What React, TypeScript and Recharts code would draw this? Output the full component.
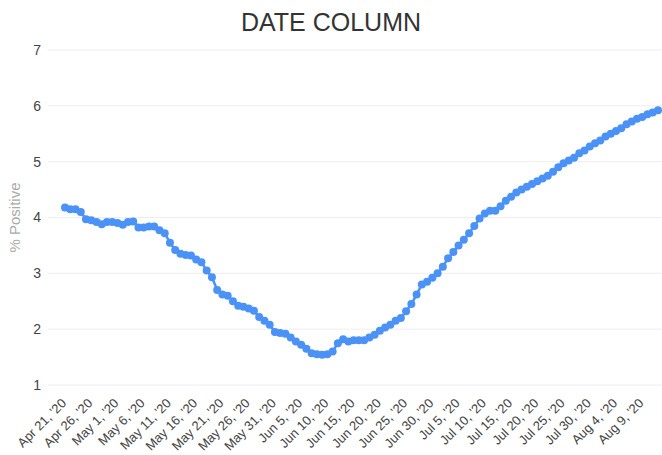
import React from 'react';
import { LineChart, Line, XAxis, YAxis, CartesianGrid } from 'recharts';

const MONTHS = ['Jan', 'Feb', 'Mar', 'Apr', 'May', 'Jun', 'Jul', 'Aug', 'Sep', 'Oct', 'Nov', 'Dec'];

// daily % positive, Apr 21 '20 .. Aug 12 '20
const positive = [
  4.18, 4.15, 4.15, 4.1, 3.97, 3.95, 3.92, 3.88, 3.92, 3.92,
  3.9, 3.87, 3.92, 3.93, 3.82, 3.82, 3.84, 3.84, 3.77, 3.72,
  3.55, 3.42, 3.35, 3.33, 3.32, 3.25, 3.2, 3.05, 2.93, 2.7,
  2.62, 2.6, 2.5, 2.42, 2.4, 2.37, 2.33, 2.22, 2.15, 2.08,
  1.95, 1.93, 1.92, 1.85, 1.78, 1.72, 1.65, 1.57, 1.55, 1.54,
  1.55, 1.6, 1.75, 1.82, 1.78, 1.8, 1.8, 1.8, 1.85, 1.9,
  1.97, 2.03, 2.08, 2.15, 2.2, 2.32, 2.45, 2.62, 2.8, 2.85,
  2.92, 3.0, 3.12, 3.27, 3.38, 3.5, 3.6, 3.72, 3.85, 3.98,
  4.07, 4.12, 4.12, 4.2, 4.3, 4.37, 4.45, 4.5, 4.55, 4.6,
  4.65, 4.7, 4.75, 4.82, 4.9, 4.97, 5.02, 5.07, 5.15, 5.2,
  5.27, 5.33, 5.38, 5.45, 5.5, 5.55, 5.6, 5.67, 5.72, 5.77,
  5.8, 5.85, 5.88, 5.92,
];

const yTicks = [1, 2, 3, 4, 5, 6, 7];

const dates = positive.map((_, i) => {
  const d = new Date(2020, 3, 21 + i);
  return `${MONTHS[d.getMonth()]} ${d.getDate()}, '20`;
});

const data = positive.map((v, i) => ({ date: dates[i], value: v }));

const FONT = 'Arial, "Liberation Sans", sans-serif';
const BLUE = '#4b92f7';

const DateTick = ({ x, y, payload }: any) => (
  <g transform={`translate(${x + 2},${y + 11})`}>
    <text
      x={0}
      y={0}
      textAnchor="end"
      transform="rotate(-45)"
      fill="#444"
      fontSize={13}
      fontFamily={FONT}
    >
      {payload.value}
    </text>
  </g>
);

export default function App() {
  return (
    <div style={{ position: 'relative', width: 662, height: 455, background: '#fff', fontFamily: FONT }}>
      <style>{'body { margin: 0; }'}</style>
      <div
        style={{
          position: 'absolute',
          top: 8,
          left: 0,
          width: 662,
          textAlign: 'center',
          fontSize: 25,
          color: '#333',
        }}
      >
        DATE COLUMN
      </div>
      <LineChart width={662} height={455} data={data} margin={{ top: 50, right: 0, bottom: 0, left: 0 }}>
        <CartesianGrid vertical={false} stroke="#eeeeee" />
        <XAxis
          dataKey="date"
          interval={4}
          padding={{ left: 17, right: 4 }}
          axisLine={false}
          tickLine={false}
          height={70}
          tick={<DateTick />}
        />
        <YAxis
          domain={[1, 7]}
          ticks={yTicks}
          width={48}
          axisLine={false}
          tickLine={false}
          tickSize={0}
          tickMargin={7}
          tick={{ fill: '#444', fontSize: 14, fontFamily: FONT }}
          label={{
            value: '% Positive',
            angle: -90,
            position: 'insideLeft',
            offset: 15,
            style: { fill: '#aaa', fontSize: 15, fontFamily: FONT, textAnchor: 'middle' },
          }}
        />
        <Line
          type="linear"
          dataKey="value"
          stroke={BLUE}
          strokeWidth={2.5}
          dot={{ r: 4, fill: BLUE, stroke: BLUE, strokeWidth: 0 }}
          isAnimationActive={false}
        />
      </LineChart>
    </div>
  );
}
